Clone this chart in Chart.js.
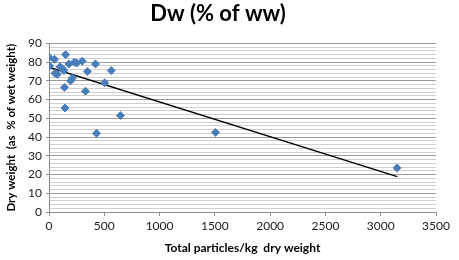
<!DOCTYPE html>
<html>
<head>
<meta charset="utf-8">
<script src="https://cdn.jsdelivr.net/npm/chart.js@4/dist/chart.umd.min.js"></script>
<style>
  html, body { margin: 0; padding: 0; background: #fff; }
  #wrap { width: 459px; height: 260px; }
</style>
</head>
<body>
<div id="wrap"><canvas id="dw-canvas" width="459" height="260"></canvas></div>
<script>
// particles per kg dry weight vs dry weight (% of wet weight)
var particlesX = [0, 5, 50, 55, 75, 100, 120, 135, 150, 140, 145, 180, 195, 212, 230, 250, 300, 330, 347, 420, 430, 504, 563, 646, 1506, 3148];
var dryWeightY = [82.5, 78, 81.5, 74, 73.5, 77.5, 76.5, 75.5, 84, 66.5, 55.5, 79, 70, 71.5, 80, 79.5, 80.5, 64.5, 75, 79, 42, 69, 75.5, 51.5, 42.5, 23.5];

// linear trendline end points
var trendX = [0, 3150];
var trendY = [77.3, 18.9];

var xTicks = [0, 500, 1000, 1500, 2000, 2500, 3000, 3500];
var yTicks = [0, 10, 20, 30, 40, 50, 60, 70, 80, 90];

var fontFam = "Lato, 'Open Sans', sans-serif";

var points = [];
for (var i = 0; i < particlesX.length; i++) {
    points.push({x: particlesX[i], y: dryWeightY[i]});
}
var trend = [];
for (var j = 0; j < trendX.length; j++) {
    trend.push({x: trendX[j], y: trendY[j]});
}

var ctx = document.getElementById('dw-canvas').getContext('2d');
var chartObj = new Chart(ctx, {
    type: 'scatter',
    data: {
        datasets: [{
            data: points,
            pointStyle: 'rectRot',
            pointRadius: 4,
            pointHoverRadius: 4,
            backgroundColor: '#4a7ebb',
            borderColor: '#4a7ebb',
            borderWidth: 1
        }, {
            type: 'line',
            data: trend,
            borderColor: '#000000',
            borderWidth: 1.4,
            pointRadius: 0,
            fill: false
        }]
    },
    options: {
        responsive: false,
        animation: false,
        events: [],
        layout: { padding: { left: 0, right: 23, top: 0, bottom: 0 } },
        plugins: {
            legend: { display: false },
            tooltip: { enabled: false },
            title: {
                display: true,
                text: 'Dw (% of ww)',
                color: '#000',
                font: { family: fontFam, size: 22, weight: 'bold' },
                padding: { top: 1, bottom: 16 }
            }
        },
        scales: {
            x: {
                type: 'linear',
                min: xTicks[0],
                max: xTicks[xTicks.length - 1],
                afterBuildTicks: function(scale) {
                    scale.ticks = xTicks.map(function(v) { return {value: v}; });
                },
                afterFit: function(scale) { scale.height = 48; },
                border: { display: true, color: '#8c8c8c', width: 1 },
                grid: {
                    drawOnChartArea: false,
                    drawTicks: true,
                    tickLength: 4,
                    tickColor: '#8c8c8c'
                },
                ticks: {
                    color: '#1a1a1a',
                    font: { family: fontFam, size: 12 },
                    padding: 3,
                    maxRotation: 0,
                    callback: function(v) { return String(v); }
                },
                title: {
                    display: true,
                    text: 'Total particles/kg  dry weight',
                    color: '#000',
                    font: { family: fontFam, size: 12, weight: 'bold' },
                    padding: { top: 0, bottom: 5 }
                }
            },
            y: {
                type: 'linear',
                min: yTicks[0],
                max: yTicks[yTicks.length - 1],
                afterFit: function(scale) { scale.width = 49; },
                border: { display: true, color: '#8c8c8c', width: 1 },
                grid: {
                    drawTicks: true,
                    tickLength: 3,
                    color: function(c) {
                        return (c.tick && c.tick.value % 10 === 0) ? '#9a9a9a' : '#cfcfcf';
                    },
                    tickColor: function(c) {
                        return (c.tick && c.tick.value % 10 === 0) ? '#8c8c8c' : 'rgba(0,0,0,0)';
                    }
                },
                ticks: {
                    stepSize: 2,
                    autoSkip: false,
                    color: '#1a1a1a',
                    font: { family: fontFam, size: 12 },
                    padding: 4,
                    callback: function(v) {
                        return yTicks.indexOf(v) >= 0 ? String(v) : '';
                    }
                },
                title: {
                    display: true,
                    text: 'Dry weight  (as  % of wet weight)',
                    color: '#000',
                    font: { family: fontFam, size: 11.5, weight: 'bold' },
                    padding: { top: 4, bottom: 0 }
                }
            }
        }
    }
});
</script>
</body>
</html>
